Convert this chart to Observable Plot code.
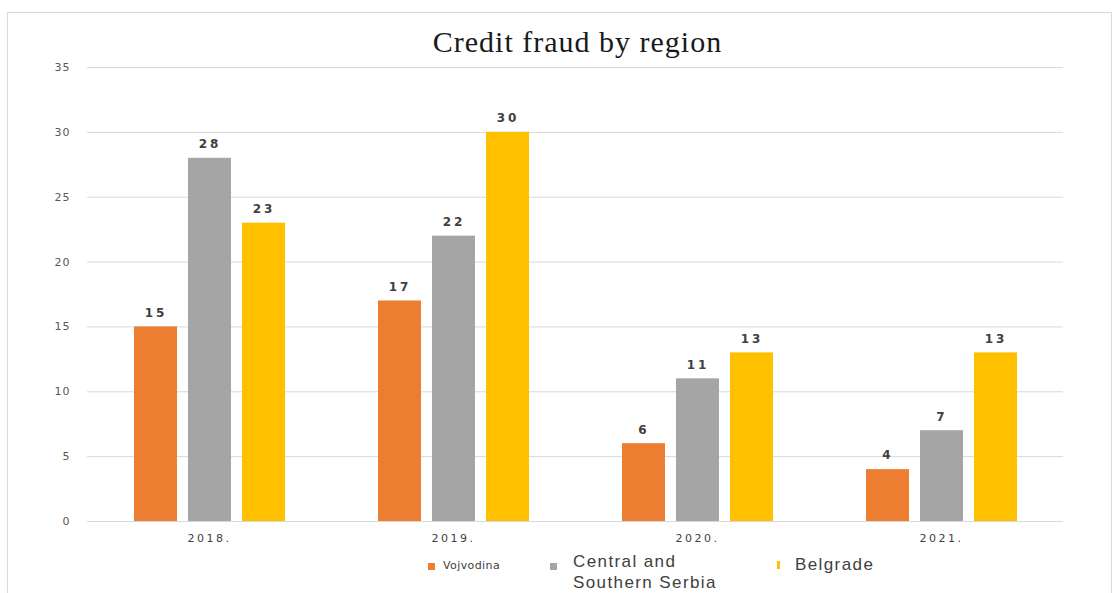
<!DOCTYPE html>
<html>
<head>
<meta charset="utf-8">
<script src="https://cdn.jsdelivr.net/npm/d3@7"></script>
<script src="https://cdn.jsdelivr.net/npm/@observablehq/plot@0.6"></script>
<style>
  html, body { margin: 0; padding: 0; background: #fff; }
  #wrap { position: relative; width: 1115px; height: 593px; overflow: hidden; background: #fff; }
  #frame { position: absolute; left: 7px; top: 12px; width: 1105px; height: 600px; border: 1px solid #d9d9d9; box-sizing: border-box; }
  #title { position: absolute; left: 0; width: 1155px; top: 25px; text-align: center; font-family: "Liberation Serif", "DejaVu Serif", serif; font-size: 30px; letter-spacing: 1px; color: #1a1a1a; }
  #chart { position: absolute; left: 0; top: 0; }
  .leg { position: absolute; font-family: "DejaVu Sans", sans-serif; color: #404040; white-space: nowrap; }
  .sw { position: absolute; }
</style>
</head>
<body>
<div id="wrap">
  <div id="frame"></div>
  <div id="chart"></div>
  <div id="title">Credit fraud by region</div>
  <div id="legend"></div>
</div>
<script>
const years = ["2018.", "2019.", "2020.", "2021."];
const regions = ["Vojvodina", "Central and Southern Serbia", "Belgrade"];
const vojvodina = [15, 17, 6, 4];
const centralSouthern = [28, 22, 11, 7];
const belgrade = [23, 30, 13, 13];
const colors = ["#ED7D31", "#A5A5A5", "#FFC000"];
const yTicks = [0, 5, 10, 15, 20, 25, 30, 35];

const series = [vojvodina, centralSouthern, belgrade];
const data = years.flatMap((year, i) =>
  regions.map((region, j) => ({ year, region, value: series[j][i] }))
);

const chart = Plot.plot({
  width: 1115,
  height: 561,
  marginTop: 67,
  marginBottom: 40,
  marginLeft: 87,
  marginRight: 52,
  style: { fontFamily: "DejaVu Sans, sans-serif", fontSize: "11px", color: "#595959", background: "transparent" },
  fx: { domain: years, paddingInner: 0, paddingOuter: 0, label: null },
  x: { domain: regions, paddingInner: 0.21, paddingOuter: 0.84, axis: null },
  y: { domain: [0, 35], label: null },
  color: { domain: regions, range: colors },
  marks: [
    Plot.ruleY(yTicks, { stroke: "#d9d9d9", strokeWidth: 1 }),
    Plot.axisY({ ticks: yTicks, tickSize: 0, tickPadding: 17, label: null, fill: "#595959", fontSize: 11 }),
    Plot.axisFx({ anchor: "bottom", tickSize: 0, tickPadding: 13, label: null, fill: "#404040", fontSize: 11 }),
    Plot.barY(data, { fx: "year", x: "region", y: "value", fill: "region" }),
    Plot.text(data, { fx: "year", x: "region", y: "value", text: d => String(d.value), dy: -14, fill: "#404040", fontSize: 12, fontWeight: "bold" })
  ]
});
document.getElementById("chart").appendChild(chart);

// letter spacing tweaks
const svg = d3.select(chart);
svg.selectAll("g[aria-label='fx-axis tick label'] text").style("letter-spacing", "2.5px");
svg.selectAll("g[aria-label='y-axis tick label'] text").style("letter-spacing", "1px");
svg.selectAll("g[aria-label='text'] text").style("letter-spacing", "3px");

// legend
const legend = document.getElementById("legend");
function add(html, style, cls) {
  const el = document.createElement("div");
  el.className = cls;
  el.innerHTML = html;
  Object.assign(el.style, style);
  legend.appendChild(el);
}
add("", { left: "428px", top: "563px", width: "7px", height: "7px", background: colors[0] }, "sw");
add(regions[0], { left: "443px", top: "559px", fontSize: "11px", letterSpacing: "0.4px" }, "leg");
add("", { left: "550px", top: "563px", width: "7px", height: "7px", background: colors[1] }, "sw");
add("Central and<br>Southern Serbia", { left: "573px", top: "551px", fontSize: "17px", lineHeight: "21px", fontFamily: "Liberation Sans, Arial, sans-serif", letterSpacing: "1.4px" }, "leg");
add("", { left: "777px", top: "561px", width: "3px", height: "8px", background: colors[2] }, "sw");
add(regions[2], { left: "795px", top: "555px", fontSize: "17px", fontFamily: "Liberation Sans, Arial, sans-serif", letterSpacing: "1.4px" }, "leg");
</script>
</body>
</html>
